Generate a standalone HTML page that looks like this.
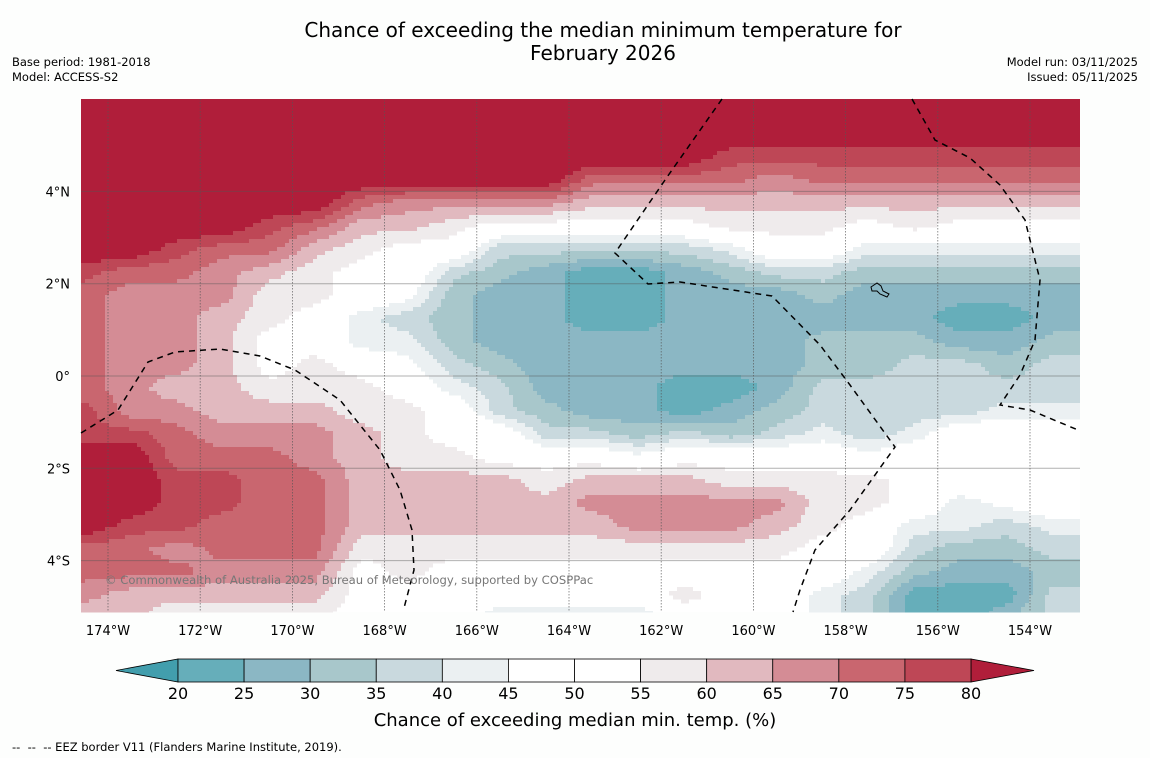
<!DOCTYPE html>
<html><head><meta charset="utf-8"><style>
body{margin:0;background:#fdfefd;font-family:"DejaVu Sans","Liberation Sans",sans-serif;}
#wrap{position:relative;width:1150px;height:758px;overflow:hidden;}
.t{position:absolute;color:#000;}
</style></head><body>
<div id="wrap">
<div class="t" style="left:0;width:1206px;top:19px;text-align:center;font-size:20px;line-height:23px;">Chance of exceeding the median minimum temperature for<br>February 2026</div>
<div class="t" style="left:12px;top:55px;font-size:11.5px;line-height:15px;">Base period: 1981-2018<br>Model: ACCESS-S2</div>
<div class="t" style="right:12px;top:55px;font-size:11.5px;line-height:15px;text-align:right;">Model run: 03/11/2025<br>Issued: 05/11/2025</div>
<div class="t" style="left:12px;top:740px;font-size:11.5px;">--&nbsp; --&nbsp; -- EEZ border V11 (Flanders Marine Institute, 2019).</div>
<svg id="map" width="1150" height="758" style="position:absolute;left:0;top:0"></svg>
</div>
<script>
const lonCenters=[-174.5,-173.5,-172.5,-171.5,-170.5,-169.5,-168.5,-167.5,-166.5,-165.5,-164.5,-163.5,-162.5,-161.5,-160.5,-159.5,-158.5,-157.5,-156.5,-155.5,-154.5,-153.5];
const latCenters=[5.75,5.25,4.75,4.25,3.75,3.25,2.75,2.25,1.75,1.25,0.75,0.25,-0.25,-0.75,-1.25,-1.75,-2.25,-2.75,-3.25,-3.75,-4.25,-4.75,-5.1];
const chanceByLon=[
[85,85,85,85,85,85,85,77,72,72,72,72,72,77,77,85,85,85,85,72,72,67,62],
[85,85,85,85,85,85,85,72,67,67,67,67,67,67,77,85,85,85,77,72,72,62,62],
[85,85,85,85,85,85,77,72,67,67,67,67,62,67,72,72,77,77,77,67,72,62,57],
[85,85,85,85,85,85,72,67,67,62,62,62,62,62,67,72,77,77,72,72,67,62,57],
[85,85,85,85,85,77,72,62,57,57,52,52,57,62,67,72,72,72,72,72,67,62,57],
[85,85,85,85,85,72,62,57,57,52,52,57,57,62,67,67,72,72,72,72,67,62,57],
[85,85,85,85,72,62,57,52,52,42,42,52,57,57,62,62,62,62,62,57,52,52,52],
[85,85,85,85,67,62,52,52,47,37,42,47,52,57,57,57,62,62,62,57,57,52,52],
[85,85,85,85,67,57,52,37,32,32,32,37,42,52,52,57,62,62,62,57,52,52,52],
[85,85,85,85,67,52,37,32,27,27,27,32,37,37,52,52,62,62,62,57,52,52,42],
[85,85,85,85,67,52,37,27,27,27,27,27,27,32,37,52,57,62,62,57,52,52,42],
[85,85,85,72,62,52,37,22,22,22,27,27,27,27,37,52,62,67,62,57,52,52,42],
[85,85,85,72,62,52,37,22,22,22,27,27,27,27,32,47,62,67,67,57,52,52,42],
[85,85,85,72,62,52,37,27,27,27,27,27,22,22,37,52,62,67,67,57,52,57,52],
[85,85,77,72,62,57,42,32,27,27,27,27,22,27,32,52,57,67,67,57,52,52,52],
[85,85,77,67,62,57,52,37,27,27,27,27,27,32,37,52,57,67,62,57,52,52,52],
[85,85,77,72,62,57,52,37,32,27,32,32,37,37,42,52,57,57,57,52,52,42,42],
[85,85,77,72,62,52,42,32,27,27,32,32,37,37,37,47,57,57,52,52,42,37,37],
[85,85,77,72,62,57,42,32,27,27,32,37,37,37,42,52,52,52,42,37,32,22,22],
[85,85,77,72,62,52,42,32,27,22,27,37,37,37,52,52,52,42,42,32,27,22,22],
[85,85,77,72,62,52,42,32,27,22,27,32,37,42,52,52,52,47,37,32,27,22,27],
[85,85,77,72,62,52,42,32,27,27,32,37,37,42,52,52,52,52,42,37,32,37,37]
];
const lonTicks=[-174,-172,-170,-168,-166,-164,-162,-160,-158,-156,-154];
const latTicks=[4,2,0,-2,-4];
const cbarLevels=[20,25,30,35,40,45,50,55,60,65,70,75,80];
const cbarColors=["#66aeba","#8bb7c4","#a8c7cb","#c9d9de","#ebf0f2","#ffffff","#ffffff","#efebec","#e1b9bf","#d48c95","#c9666f","#be4756"];
const underColor="#429ead", overColor="#b01e3a";

const NS="http://www.w3.org/2000/svg";
const svg=document.getElementById('map');
const FONT="DejaVu Sans, Liberation Sans, sans-serif";
function mk(t,a,p){const e=document.createElementNS(NS,t);for(const k in a)e.setAttribute(k,a[k]);(p||svg).appendChild(e);return e;}
const X0=81,X1=1080,Y0=99,Y1=612;
const xS=lon=>108+(lon+174)*46.1;
const yS=lat=>376-lat*46.15;
const lonOf=x=>(x-108)/46.1-174;
const latOf=y=>(376-y)/46.15;
function colorFor(v){
  if(v<cbarLevels[0])return underColor;
  if(v>=cbarLevels[cbarLevels.length-1])return overColor;
  for(let i=0;i<cbarLevels.length-1;i++)if(v<cbarLevels[i+1])return cbarColors[i];
}
function sample(lon,lat){
  let fc=(lon-lonCenters[0])/(lonCenters[1]-lonCenters[0]);
  fc=Math.max(0,Math.min(lonCenters.length-1,fc));
  let fr=0;
  if(lat>=latCenters[0])fr=0;else if(lat<=latCenters[latCenters.length-1])fr=latCenters.length-1;
  else{for(let i=0;i<latCenters.length-1;i++){if(lat<=latCenters[i]&&lat>=latCenters[i+1]){fr=i+(latCenters[i]-lat)/(latCenters[i]-latCenters[i+1]);break;}}}
  const c0=Math.floor(fc),c1=Math.min(c0+1,lonCenters.length-1),r0=Math.floor(fr),r1=Math.min(r0+1,latCenters.length-1);
  const a=fc-c0,b=fr-r0;
  const g=(c,r)=>chanceByLon[c][r];
  return (1-a)*(1-b)*g(c0,r0)+a*(1-b)*g(c1,r0)+(1-a)*b*g(c0,r1)+a*b*g(c1,r1);
}
const field=mk('g',{});


mk('rect',{x:X0,y:Y0,width:X1-X0,height:Y1-Y0,fill:'#ffffff'},field);
const S=4;
for(let y=Y0;y<Y1;y+=S){
  const h=Math.min(S,Y1-y);
  let runStart=X0,runCol=null;
  for(let x=X0;;x+=S){
    const done=x>=X1;
    const col=done?null:colorFor(sample(lonOf(x+S/2),latOf(y+S/2)));
    if(col!==runCol){
      if(runCol&&runCol!=='#ffffff'){
        const r=mk('rect',{x:runStart,y:y,width:Math.min(x,X1)-runStart,height:h+0.5,fill:runCol},field);
        
        
      }
      runStart=x;runCol=col;
    }
    if(done)break;
  }
}
lonTicks.forEach(l=>{const ln=mk('line',{x1:xS(l),x2:xS(l),y1:Y0,y2:Y1,stroke:'#555',"stroke-width":0.8,"stroke-dasharray":"1.5,1.5",opacity:0.8});
});
latTicks.forEach(l=>{const ln=mk('line',{x1:X0,x2:X1,y1:yS(l),y2:yS(l),stroke:'#555',"stroke-width":1,opacity:0.45});
});
const eez=[
"M81,433 L118,410 L148,362 L175,352 L220,349 L260,356 L295,370 L340,400 L380,450 L400,490 L412,530 L414,570 L404,608",
"M722,99 L665,180 L615,253 L648,284 L680,282 L772,296 L820,345 L850,385 L895,447 L850,510 L815,550 L800,590 L793,612",
"M912,99 L935,140 L970,158 L1000,185 L1025,220 L1040,280 L1035,340 L1020,375 L1000,405 L1030,410 L1078,430"];
eez.forEach(d=>{const p=mk('path',{d:d,fill:'none',stroke:'#000',"stroke-width":1.5,"stroke-dasharray":"6,5"});
});
const isl=mk('path',{d:"M871,287 l6,-4 l4,3 l2,5 l6,3 l-2,3 l-7,-3 l-3,-3 l-5,0 z",fill:'none',stroke:'#000',"stroke-width":1});

lonTicks.forEach(l=>{const t=mk('text',{x:xS(l),y:635,"text-anchor":"middle","font-size":13,"font-family":FONT});t.textContent=(-l)+'°W';
});
latTicks.forEach(l=>{const t=mk('text',{x:70,y:yS(l)+5,"text-anchor":"end","font-size":13,"font-family":FONT});t.textContent=l===0?'0°':(Math.abs(l)+'°'+(l>0?'N':'S'));
});
const wm=mk('text',{x:105,y:584,"font-size":11.6,fill:'#777',"font-family":FONT});wm.textContent='© Commonwealth of Australia 2025, Bureau of Meteorology, supported by COSPPac';

const cb=mk('g',{});
const cx=v=>178+(v-20)*(971-178)/60;
const cy0=659,cy1=682;
const under=mk('polygon',{points:`116,${(cy0+cy1)/2} ${cx(20)},${cy0} ${cx(20)},${cy1}`,fill:underColor,stroke:'#000',"stroke-width":0.8},cb);

const over=mk('polygon',{points:`1034,${(cy0+cy1)/2} ${cx(80)},${cy0} ${cx(80)},${cy1}`,fill:overColor,stroke:'#000',"stroke-width":0.8},cb);

for(let i=0;i<cbarColors.length;i++){
  const r=mk('rect',{x:cx(cbarLevels[i]),y:cy0,width:cx(cbarLevels[i+1])-cx(cbarLevels[i]),height:cy1-cy0,fill:cbarColors[i],stroke:'#000',"stroke-width":0.8},cb);
  
}
cbarLevels.forEach(v=>{const t=mk('text',{x:cx(v),y:699,"text-anchor":"middle","font-size":16,"font-family":FONT},cb);t.textContent=v;
});
const cl=mk('text',{x:575,y:726,"text-anchor":"middle","font-size":18,"font-family":FONT},cb);cl.textContent='Chance of exceeding median min. temp. (%)';

</script>
</body></html>
